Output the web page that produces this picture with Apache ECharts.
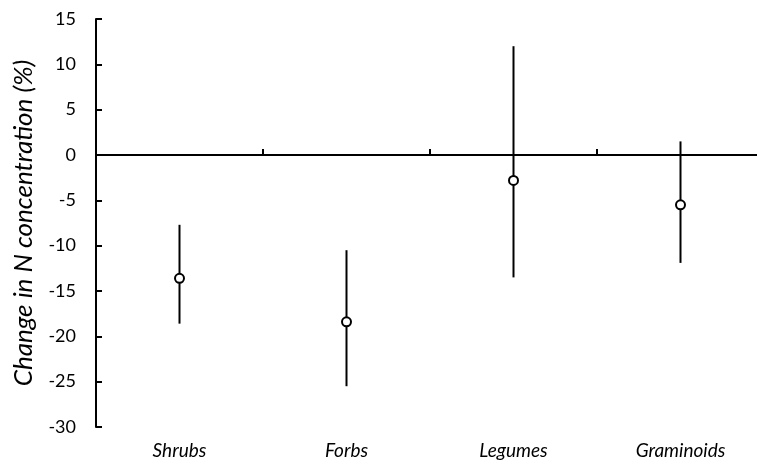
<!DOCTYPE html>
<html>
<head>
<meta charset="utf-8">
<script src="https://cdn.jsdelivr.net/npm/echarts@6/dist/echarts.min.js"></script>
<style>
  html, body { margin: 0; padding: 0; background: #fff; }
  #chart { width: 757px; height: 467px; }
</style>
</head>
<body>
<div id="chart"></div>
<script>
// plant groups and their mean change with error range
const groups = ['Shrubs', 'Forbs', 'Legumes', 'Graminoids']
const means = [-13.6, -18.4, -2.8, -5.5]
const upper = [-7.7, -10.5, 12.0, 1.5]
const lower = [-18.6, -25.5, -13.5, -11.9]

const font = 'Lato, "Open Sans", sans-serif'

let errData = groups.map((g, i) => [i, lower[i], upper[i]])

let option = {
  animation: false,
  grid: { left: 96, top: 19, width: 668, height: 408, outerBoundsMode: 'none', containLabel: false },
  xAxis: [
    {
      type: 'category',
      data: groups,
      position: 'bottom',
      axisLine: { show: false, onZero: false },
      axisTick: { show: false },
      axisLabel: { color: '#000', fontSize: 19, fontStyle: 'italic', fontFamily: font, margin: 14 }
    },
    {
      type: 'category',
      data: groups,
      position: 'top',
      axisLine: { onZero: true, lineStyle: { color: '#000', width: 2 } },
      axisTick: { show: true, inside: false, length: 6, lineStyle: { color: '#000', width: 2 } },
      axisLabel: { show: false }
    }
  ],
  yAxis: {
    type: 'value',
    min: -30, max: 15, interval: 5,
    name: 'Change in N concentration (%)',
    nameLocation: 'middle',
    nameGap: 59,
    nameTextStyle: { color: '#000', fontSize: 26, fontStyle: 'italic', fontFamily: font },
    splitLine: { show: false },
    axisLine: { show: true, lineStyle: { color: '#000', width: 2 } },
    axisTick: { show: true, inside: true, length: 6, lineStyle: { color: '#000', width: 2 } },
    axisLabel: { color: '#000', fontSize: 18, fontFamily: font, margin: 20 }
  },
  series: [
    {
      type: 'custom',
      xAxisIndex: 0,
      data: errData,
      renderItem: (params, api) => {
        let lo = api.coord([api.value(0), api.value(1)])
        let hi = api.coord([api.value(0), api.value(2)])
        return {
          type: 'line',
          shape: { x1: lo[0], y1: lo[1], x2: hi[0], y2: hi[1] },
          style: { stroke: '#000', lineWidth: 2 }
        }
      },
      z: 2
    },
    {
      type: 'scatter',
      xAxisIndex: 0,
      data: means,
      symbol: 'circle',
      symbolSize: 9,
      itemStyle: { color: '#fff', borderColor: '#000', borderWidth: 2, opacity: 1 },
      z: 3
    }
  ]
}

let myChart = echarts.init(document.getElementById('chart'))
myChart.setOption(option)
</script>
</body>
</html>
